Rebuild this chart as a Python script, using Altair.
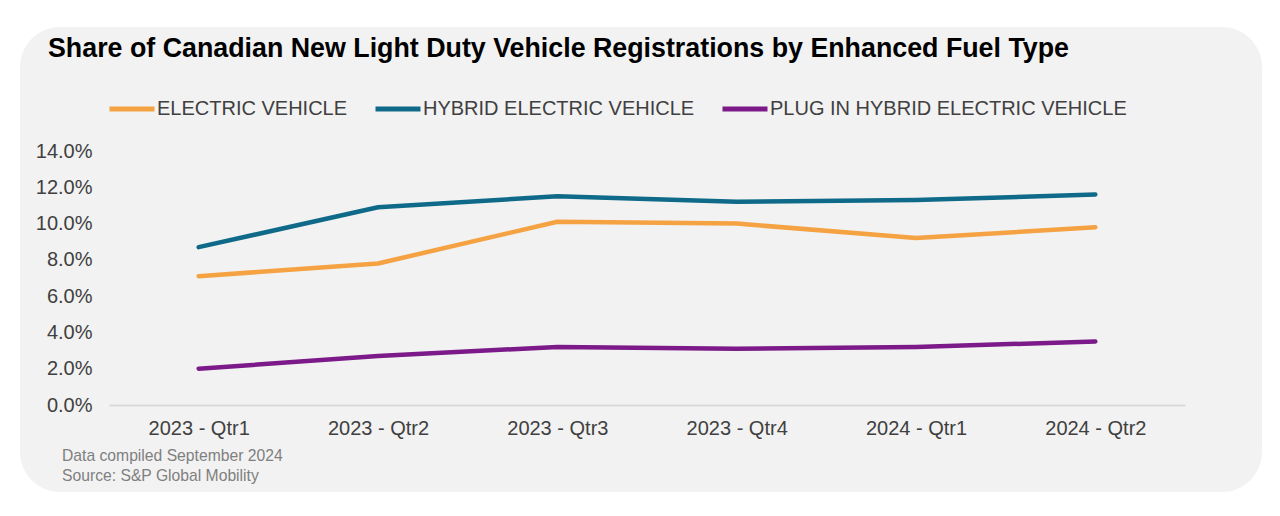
import altair as alt
import pandas as pd

quarters = ["2023 - Qtr1", "2023 - Qtr2", "2023 - Qtr3", "2023 - Qtr4", "2024 - Qtr1", "2024 - Qtr2"]
series_names = ["ELECTRIC VEHICLE", "HYBRID ELECTRIC VEHICLE", "PLUG IN HYBRID ELECTRIC VEHICLE"]
ev = [7.1, 7.8, 10.1, 10.0, 9.2, 9.8]
hev = [8.7, 10.9, 11.5, 11.2, 11.3, 11.6]
phev = [2.0, 2.7, 3.2, 3.1, 3.2, 3.5]
colors = ["#F5A242", "#0E6A88", "#7B1A88"]
title_text = "Share of Canadian New Light Duty Vehicle Registrations by Enhanced Fuel Type"
footer_lines = ["Data compiled September 2024", "Source: S&P Global Mobility"]

rows = []
for name, vals in zip(series_names, [ev, hev, phev]):
    for q, v in zip(quarters, vals):
        rows.append({"quarter": q, "series": name, "value": v / 100.0})
df = pd.DataFrame(rows)

FONT = "Liberation Sans"
W, H = 1076, 254

card = alt.Chart(pd.DataFrame({"a": [0]})).mark_rect(
    color="#f2f2f2", cornerRadius=40, clip=False
).encode(
    x=alt.value(-89), x2=alt.value(1153), y=alt.value(-124), y2=alt.value(341)
)

lines = alt.Chart(df).mark_line(strokeWidth=4.5, strokeCap="round", strokeJoin="round").encode(
    x=alt.X("quarter:N", sort=quarters, scale=alt.Scale(paddingOuter=0.5),
            axis=alt.Axis(title=None, labelAngle=0, labelFontSize=20, labelColor="#404040",
                          labelFont=FONT, labelPadding=13, ticks=False, zindex=1,
                          domainColor="#d9d9d9", domainWidth=2, grid=False)),
    y=alt.Y("value:Q", scale=alt.Scale(domain=[0, 0.14], nice=False),
            axis=alt.Axis(title=None, format=".1%", values=[0, 0.02, 0.04, 0.06, 0.08, 0.10, 0.12, 0.14],
                          labelFontSize=20, labelColor="#404040", labelFont=FONT, zindex=1,
                          labelPadding=17, ticks=False, domain=False, grid=False)),
    color=alt.Color("series:N", sort=series_names,
                    scale=alt.Scale(domain=series_names, range=colors),
                    legend=alt.Legend(title=None, orient="none", legendX=-2, legendY=-67,
                                      direction="horizontal", symbolType="stroke",
                                      symbolSize=2025, symbolStrokeWidth=5, zindex=1,
                                      labelFontSize=20, labelColor="#404040", labelFont=FONT,
                                      labelLimit=600, labelOffset=0, columnPadding=17, columns=3)),
)

title = alt.Chart(pd.DataFrame({"t": [title_text]})).mark_text(
    align="left", baseline="alphabetic", font=FONT, fontSize=26.8, fontWeight="bold", color="#000000"
).encode(x=alt.value(-61), y=alt.value(-94), text="t:N")

foot1 = alt.Chart(pd.DataFrame({"t": [footer_lines[0]]})).mark_text(
    align="left", baseline="alphabetic", font=FONT, fontSize=15.7, color="#7f7f7f"
).encode(x=alt.value(-47), y=alt.value(310), text="t:N")
foot2 = alt.Chart(pd.DataFrame({"t": [footer_lines[1]]})).mark_text(
    align="left", baseline="alphabetic", font=FONT, fontSize=15.7, color="#7f7f7f"
).encode(x=alt.value(-47), y=alt.value(330), text="t:N")

chart = alt.layer(card, lines, title, foot1, foot2).properties(
    width=W, height=H, background="#ffffff",
    autosize=alt.AutoSizeParams(type="none"),
    padding={"left": 101, "top": 143, "right": 87, "bottom": 103},
).configure_view(stroke=None)

chart.save("out.html", embed_options={"renderer": "svg", "actions": False})
